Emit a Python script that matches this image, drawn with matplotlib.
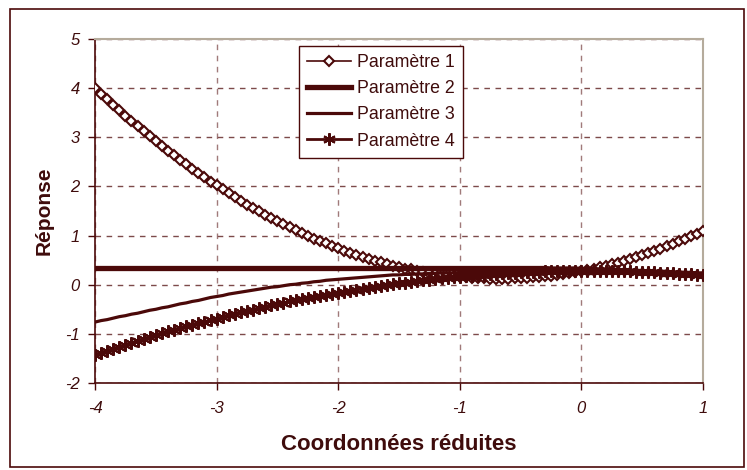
import numpy as np
import matplotlib
matplotlib.use("Agg")
import matplotlib.pyplot as plt
from matplotlib.patches import Rectangle

plt.rcParams["font.family"] = ["Liberation Sans", "DejaVu Sans"]
plt.rcParams["axes.unicode_minus"] = False

MAROON = "#4b0909"
TXT = "#3f0c0c"

# reduced coordinate, one point every 0.05 from -4 to 1
x = np.round(np.arange(-4.0, 1.0001, 0.05), 2)

param1 = [4.00, 3.88, 3.77, 3.66, 3.55, 3.44, 3.33, 3.23, 3.12, 3.02,
          2.92, 2.82, 2.73, 2.63, 2.54, 2.45, 2.36, 2.27, 2.19, 2.10,
          2.02, 1.94, 1.86, 1.78, 1.71, 1.63, 1.56, 1.49, 1.42, 1.36,
          1.29, 1.23, 1.17, 1.11, 1.05, 0.99, 0.94, 0.89, 0.84, 0.79,
          0.74, 0.69, 0.65, 0.61, 0.57, 0.53, 0.49, 0.46, 0.42, 0.39,
          0.36, 0.33, 0.31, 0.28, 0.26, 0.24, 0.22, 0.20, 0.19, 0.17,
          0.16, 0.15, 0.14, 0.13, 0.13, 0.12, 0.12, 0.12, 0.12, 0.13,
          0.13, 0.14, 0.15, 0.16, 0.17, 0.18, 0.20, 0.22, 0.24, 0.26,
          0.28, 0.30, 0.33, 0.36, 0.39, 0.42, 0.45, 0.49, 0.52, 0.56,
          0.60, 0.64, 0.69, 0.73, 0.78, 0.83, 0.88, 0.93, 0.99, 1.04,
          1.10]

param2 = [0.33, 0.33, 0.33, 0.33, 0.33, 0.33, 0.33, 0.33, 0.33, 0.33,
          0.33, 0.33, 0.33, 0.33, 0.33, 0.33, 0.33, 0.33, 0.33, 0.33,
          0.33, 0.33, 0.33, 0.33, 0.33, 0.33, 0.33, 0.33, 0.33, 0.33,
          0.33, 0.33, 0.33, 0.33, 0.33, 0.33, 0.33, 0.33, 0.33, 0.33,
          0.33, 0.33, 0.33, 0.33, 0.33, 0.33, 0.33, 0.33, 0.33, 0.33,
          0.33, 0.33, 0.33, 0.33, 0.33, 0.33, 0.33, 0.33, 0.33, 0.33,
          0.33, 0.33, 0.33, 0.33, 0.33, 0.33, 0.33, 0.33, 0.33, 0.33,
          0.33, 0.33, 0.33, 0.33, 0.33, 0.32, 0.32, 0.32, 0.32, 0.32,
          0.31, 0.31, 0.31, 0.30, 0.30, 0.29, 0.29, 0.28, 0.28, 0.27,
          0.27, 0.26, 0.26, 0.25, 0.25, 0.24, 0.24, 0.23, 0.23, 0.22,
          0.22]

param3 = [-0.76, -0.73, -0.71, -0.68, -0.65, -0.63, -0.60, -0.58, -0.55, -0.52,
          -0.50, -0.47, -0.45, -0.42, -0.39, -0.37, -0.34, -0.32, -0.29, -0.26,
          -0.24, -0.22, -0.19, -0.17, -0.15, -0.13, -0.11, -0.09, -0.07, -0.05,
          -0.04, -0.02, 0.00, 0.01, 0.03, 0.04, 0.06, 0.07, 0.09, 0.10,
          0.11, 0.12, 0.13, 0.14, 0.15, 0.16, 0.17, 0.18, 0.19, 0.20,
          0.20, 0.21, 0.21, 0.22, 0.22, 0.23, 0.23, 0.24, 0.24, 0.24,
          0.25, 0.25, 0.25, 0.25, 0.26, 0.26, 0.26, 0.26, 0.27, 0.27,
          0.27, 0.27, 0.27, 0.27, 0.28, 0.28, 0.28, 0.28, 0.28, 0.28,
          0.28, 0.28, 0.28, 0.27, 0.27, 0.27, 0.26, 0.26, 0.26, 0.25,
          0.25, 0.25, 0.24, 0.24, 0.23, 0.23, 0.22, 0.22, 0.21, 0.21,
          0.20]

param4 = [-1.42, -1.38, -1.34, -1.30, -1.26, -1.22, -1.18, -1.14, -1.10, -1.06,
          -1.03, -0.99, -0.95, -0.92, -0.88, -0.85, -0.82, -0.78, -0.75, -0.72,
          -0.69, -0.65, -0.62, -0.59, -0.56, -0.53, -0.51, -0.48, -0.45, -0.42,
          -0.40, -0.37, -0.34, -0.32, -0.29, -0.27, -0.25, -0.22, -0.20, -0.18,
          -0.16, -0.14, -0.12, -0.10, -0.08, -0.06, -0.04, -0.02, 0.00, 0.01,
          0.03, 0.04, 0.06, 0.07, 0.09, 0.10, 0.12, 0.13, 0.14, 0.15,
          0.16, 0.17, 0.18, 0.19, 0.20, 0.21, 0.22, 0.23, 0.24, 0.24,
          0.25, 0.25, 0.26, 0.26, 0.27, 0.27, 0.27, 0.28, 0.28, 0.28,
          0.28, 0.28, 0.28, 0.28, 0.28, 0.28, 0.27, 0.27, 0.27, 0.26,
          0.26, 0.26, 0.25, 0.24, 0.24, 0.23, 0.22, 0.22, 0.21, 0.20,
          0.19]

labels = ["Paramètre 1", "Paramètre 2", "Paramètre 3", "Paramètre 4"]
xticks = [-4, -3, -2, -1, 0, 1]
yticks = [-2, -1, 0, 1, 2, 3, 4, 5]

fig = plt.figure(figsize=(7.47, 4.70), dpi=100)
ax = fig.add_axes([0.1272, 0.1851, 0.8139, 0.7319])

# frame around the whole chart
fig.patches.append(Rectangle((10 / 747, 3 / 470), 734 / 747, 458 / 470,
                             transform=fig.transFigure, fill=False,
                             edgecolor=MAROON, linewidth=1.2))

ax.plot(x, param1, color=MAROON, lw=1.2, marker="D", ms=5.0, mew=1.5,
        mfc="white", mec=MAROON, label=labels[0], zorder=3)
ax.plot(x, param2, color=MAROON, lw=3.8, label=labels[1], zorder=4)
ax.plot(x, param3, color=MAROON, lw=2.3, label=labels[2], zorder=4)
ax.plot(x, param4, color=MAROON, lw=2.0, marker=(6, 2, 0), ms=9.0, mew=1.5,
        mec=MAROON, label=labels[3], zorder=5)

ax.set_xlim(-4, 1)
ax.set_ylim(-2, 5)
ax.set_xticks(xticks)
ax.set_yticks(yticks)
ax.set_xticklabels([str(v) for v in xticks])
ax.set_yticklabels([str(v) for v in yticks])

for lab in ax.get_xticklabels() + ax.get_yticklabels():
    lab.set_fontstyle("italic")
    lab.set_fontsize(12)
    lab.set_color(TXT)

ax.tick_params(axis="both", direction="out", length=5, width=1, color=MAROON)
ax.tick_params(axis="x", pad=8)
ax.tick_params(axis="y", pad=6)

ax.grid(True, axis="x", color="#a07a7a", linestyle=(0, (4, 4)), lw=1.0)
ax.grid(True, axis="y", color="#7d4a4a", linestyle=(0, (4, 4)), lw=1.0)
ax.set_axisbelow(True)

for side in ["left", "bottom"]:
    ax.spines[side].set_color(MAROON)
    ax.spines[side].set_linewidth(1.2)
for side in ["top", "right"]:
    ax.spines[side].set_color("#b5ab9c")
    ax.spines[side].set_linewidth(1.5)

ax.set_xlabel("Coordonnées réduites", fontsize=16, fontweight="bold",
              color=TXT, labelpad=13)
ax.set_ylabel("Réponse", fontsize=15, fontweight="bold", color=TXT,
              labelpad=8)

leg = ax.legend(loc="upper left", bbox_to_anchor=(0.3355, 0.98),
                borderaxespad=0, fontsize=12.8, frameon=True, fancybox=False,
                edgecolor=MAROON, framealpha=1, handlelength=2.5,
                handletextpad=0.3, labelspacing=0.52, borderpad=0.45,
                labelcolor=TXT)
leg.get_frame().set_linewidth(1.0)

fig.savefig("out.png", dpi=100)
